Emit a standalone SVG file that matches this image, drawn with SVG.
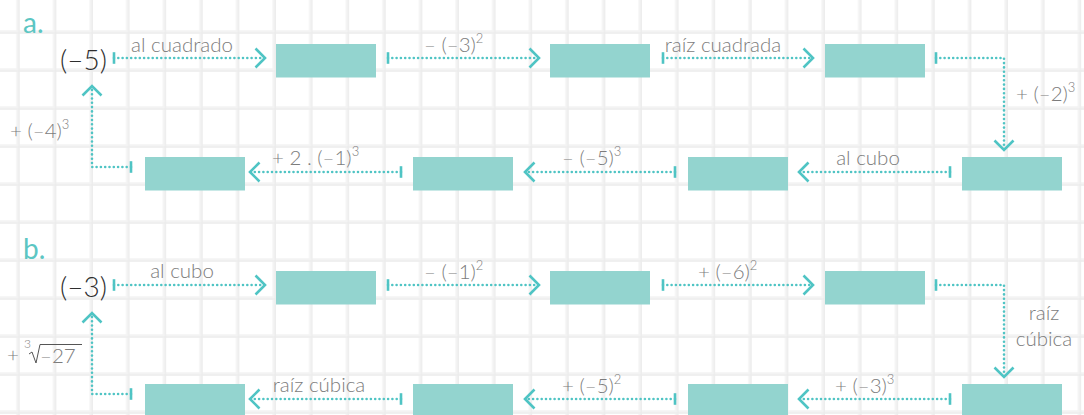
<svg xmlns="http://www.w3.org/2000/svg" width="1084" height="415" viewBox="0 0 1084 415">
<defs>
<pattern id="grid" patternUnits="userSpaceOnUse" x="0" y="0" width="36.6" height="38">
<rect width="36.6" height="38" fill="#ffffff"/>
<path d="M18,0 V38 M0,32 H36.6" stroke="#f3f3f3" stroke-width="3.5" fill="none"/>
<path d="M19,0 V38 M0,33 H36.6" stroke="#ebebeb" stroke-width="1" fill="none"/>
</pattern>
<marker id="arr" markerUnits="userSpaceOnUse" markerWidth="26" markerHeight="26" viewBox="-13 -13 26 26" refX="0" refY="0" orient="auto" overflow="visible">
<path d="M-9.5,-9.5 L0,0 L-9.5,9.5" fill="none" stroke="#4fc4c4" stroke-width="2.6"/>
</marker>
<marker id="tick" markerUnits="userSpaceOnUse" markerWidth="10" markerHeight="16" viewBox="-5 -8 10 16" refX="0" refY="0" orient="auto" overflow="visible">
<path d="M0,-5.8 V5.8" fill="none" stroke="#4fc4c4" stroke-width="2.6"/>
</marker>
</defs>
<style>
.box{fill:#93d4cf}
.con{fill:none;stroke:#4fc4c4;stroke-width:2.6;stroke-linecap:round;stroke-dasharray:0 4.3;marker-start:url(#tick);marker-end:url(#arr)}
.lbl{font-family:Lato,"Open Sans","Liberation Sans",sans-serif;font-weight:300;font-size:20.5px;fill:#7c7c7c}
.num{font-family:Lato,"Open Sans","Liberation Sans",sans-serif;font-weight:300;font-size:28px;fill:#2e2e2e}
.sec{font-family:Lato,"Open Sans","Liberation Sans",sans-serif;font-weight:400;font-size:28px;fill:#5cc6c3}
.sup{font-size:13px}
</style>
<rect width="1084" height="415" fill="url(#grid)"/>

<g id="part-a">
<text class="sec" x="23" y="33">a.</text>
<g id="a-start"><text class="num" x="60" y="70">(–5)</text></g>
<g id="a-box1"><rect class="box" x="276" y="44" width="100" height="33.5"/></g>
<g id="a-box2"><rect class="box" x="550" y="44" width="100" height="33.5"/></g>
<g id="a-box3"><rect class="box" x="825" y="44" width="100" height="33.5"/></g>
<g id="a-box4"><rect class="box" x="962" y="157" width="100" height="33.5"/></g>
<g id="a-box5"><rect class="box" x="688" y="157" width="100" height="33.5"/></g>
<g id="a-box6"><rect class="box" x="413" y="157" width="100" height="33.5"/></g>
<g id="a-box7"><rect class="box" x="145" y="157" width="100" height="33.5"/></g>
</g>

<g id="part-b">
<text class="sec" x="23" y="259">b.</text>
<g id="b-start"><text class="num" x="60" y="297">(–3)</text></g>
<g id="b-box1"><rect class="box" x="276" y="271" width="100" height="33.5"/></g>
<g id="b-box2"><rect class="box" x="550" y="271" width="100" height="33.5"/></g>
<g id="b-box3"><rect class="box" x="825" y="271" width="100" height="33.5"/></g>
<g id="b-box4"><rect class="box" x="962" y="384" width="100" height="33.5"/></g>
<g id="b-box5"><rect class="box" x="688" y="384" width="100" height="33.5"/></g>
<g id="b-box6"><rect class="box" x="413" y="384" width="100" height="33.5"/></g>
<g id="b-box7"><rect class="box" x="145" y="384" width="100" height="33.5"/></g>
</g>

<g id="connectors">
<path class="con" d="M114,58 H265"/>
<path class="con" d="M388,58 H539"/>
<path class="con" d="M663,58 H813"/>
<path class="con" d="M936,58 H1004 V150"/>
<path class="con" d="M950,172 H799"/>
<path class="con" d="M675,172 H525"/>
<path class="con" d="M401,172 H250"/>
<path class="con" d="M131,167 H92 V86"/>

<path class="con" d="M114,285 H265"/>
<path class="con" d="M388,285 H539"/>
<path class="con" d="M663,285 H813"/>
<path class="con" d="M936,285 H1004 V377"/>
<path class="con" d="M950,399 H799"/>
<path class="con" d="M675,399 H525"/>
<path class="con" d="M401,399 H250"/>
<path class="con" d="M131,394 H92 V313"/>
</g>

<g id="labels">
<text class="lbl" x="182" y="52" text-anchor="middle">al cuadrado</text>
<text class="lbl" x="424" y="52">– (–3)<tspan class="sup" dy="-9">2</tspan></text>
<text class="lbl" x="723" y="52" text-anchor="middle">raíz cuadrada</text>
<text class="lbl" x="1016" y="101">+ (–2)<tspan class="sup" dy="-9">3</tspan></text>
<text class="lbl" x="868" y="165" text-anchor="middle">al cubo</text>
<text class="lbl" x="562" y="165">– (–5)<tspan class="sup" dy="-9">3</tspan></text>
<text class="lbl" x="272" y="165">+ 2 . (–1)<tspan class="sup" dy="-9">3</tspan></text>
<text class="lbl" x="10" y="138">+ (–4)<tspan class="sup" dy="-9">3</tspan></text>

<text class="lbl" x="182" y="278" text-anchor="middle">al cubo</text>
<text class="lbl" x="424" y="279">– (–1)<tspan class="sup" dy="-9">2</tspan></text>
<text class="lbl" x="698" y="279">+ (–6)<tspan class="sup" dy="-9">2</tspan></text>
<text class="lbl" x="1044" y="320" text-anchor="middle">raíz</text>
<text class="lbl" x="1044" y="346" text-anchor="middle">cúbica</text>
<text class="lbl" x="835" y="393">+ (–3)<tspan class="sup" dy="-9">3</tspan></text>
<text class="lbl" x="562" y="393">+ (–5)<tspan class="sup" dy="-9">2</tspan></text>
<text class="lbl" x="319" y="392" text-anchor="middle">raíz cúbica</text>
<g id="cube-root">
<text class="lbl" x="7" y="362">+</text>
<text class="lbl" x="24" y="348" style="font-size:12px">3</text>
<path d="M29,354 L32,352 L36,363 L40,344.5 H82" fill="none" stroke="#555555" stroke-width="1"/>
<text class="lbl" x="40" y="363">–27</text>
</g>
</g>
</svg>
